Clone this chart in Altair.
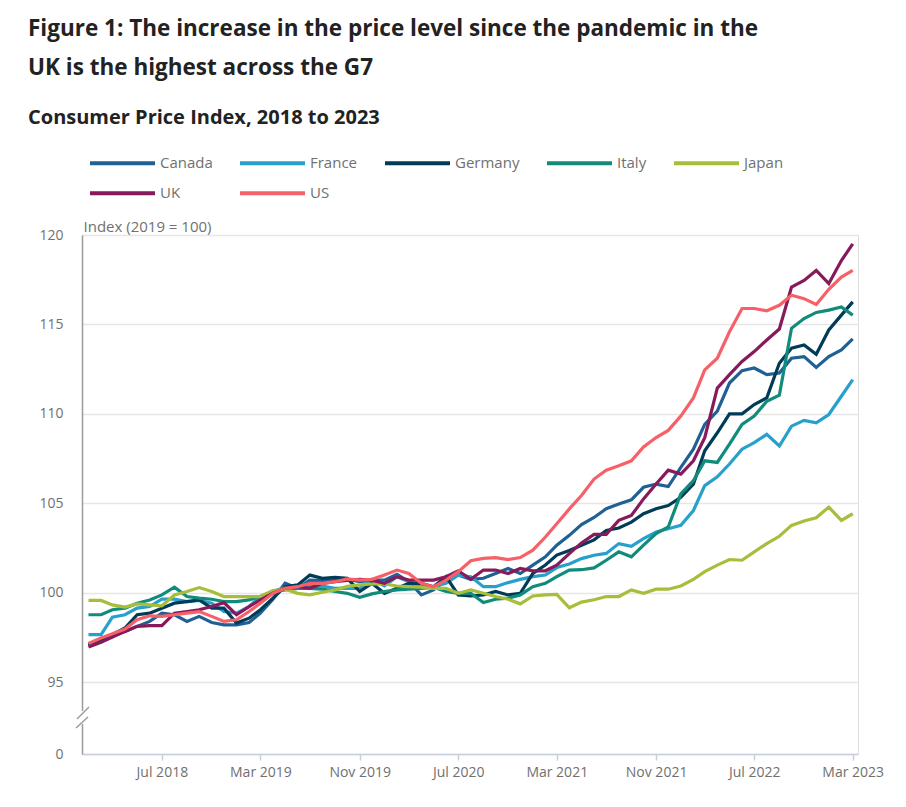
import altair as alt
import pandas as pd

months = pd.date_range("2018-01-01", "2023-03-01", freq="MS").strftime("%Y-%m-%d").tolist()

countries = ["Canada", "France", "Germany", "Italy", "Japan", "UK", "US"]
colors = ["#206095", "#27a0cc", "#003c57", "#118c7b", "#a8bd3a", "#871a5b", "#f66068"]

canada = [97.09, 97.33, 97.56, 97.83, 98.11, 98.39, 98.85, 98.76, 98.39, 98.67, 98.33, 98.20, 98.20, 98.33, 98.85, 99.63, 100.52, 100.24, 100.70, 100.67, 100.70,
          100.75, 100.61, 100.70, 100.70, 101.02, 100.61, 99.87, 100.15, 100.70, 100.98, 100.74, 100.80, 101.07, 101.35, 101.07, 101.54, 102.00,
          102.65, 103.20, 103.80, 104.20,
          104.69, 104.96, 105.19, 105.89, 106.07, 105.93, 107.00, 108.02, 109.41, 110.15, 111.72, 112.41, 112.56, 112.19, 112.28, 113.11, 113.20, 112.59, 113.20, 113.57, 114.19]
france = [97.65, 97.65, 98.63, 98.76, 99.13, 99.22, 99.63, 99.63, 99.50, 99.56, 99.41, 98.94, 98.85, 99.22, 99.78, 100.06, 100.30, 100.33, 100.33, 100.37, 100.24,
          100.25, 100.24, 100.74, 100.37, 100.89, 100.61, 100.33, 100.33, 100.52, 100.98, 100.89, 100.33, 100.33, 100.56, 100.74, 100.89, 100.98,
          101.40, 101.60, 101.90, 102.09,
          102.19, 102.74, 102.59, 103.02, 103.39, 103.57, 103.76, 104.59, 105.98, 106.48, 107.19, 108.02, 108.39, 108.85, 108.20, 109.31, 109.63, 109.50, 109.96, 110.98, 111.91]
germany = [97.04, 97.37, 97.65, 98.02, 98.76, 98.85, 99.13, 99.41, 99.50, 99.59, 99.13, 99.13, 98.30, 98.57, 99.04, 99.69, 100.33, 100.43, 100.98, 100.80, 100.85,
           100.80, 100.06, 100.52, 99.96, 100.24, 100.52, 100.52, 100.33, 100.89, 99.87, 99.81, 99.87, 100.06, 99.87, 99.96, 101.07, 101.54,
           102.10, 102.35, 102.65, 102.95,
           103.48, 103.61, 103.94, 104.41, 104.69, 104.87, 105.33, 106.07, 107.93, 108.94, 110.00, 110.00, 110.52, 110.89, 112.83, 113.67, 113.85, 113.33, 114.69, 115.52, 116.26]
italy = [98.76, 98.76, 99.04, 99.13, 99.41, 99.59, 99.87, 100.30, 99.78, 99.69, 99.63, 99.50, 99.50, 99.59, 99.78, 100.06, 100.15, 100.24, 100.24, 100.19, 100.06,
         99.96, 99.74, 99.93, 100.06, 100.15, 100.19, 100.24, 100.30, 100.06, 99.96, 99.96, 99.44, 99.63, 99.69, 99.87, 100.33, 100.52,
         100.89, 101.26, 101.28, 101.38,
         101.81, 102.28, 102.00, 102.65, 103.30, 103.67, 105.52, 106.26, 107.37, 107.28, 108.30, 109.41, 109.87, 110.70, 111.04, 114.78, 115.33, 115.67, 115.80, 115.98, 115.52]
japan = [99.56, 99.56, 99.31, 99.19, 99.37, 99.31, 99.26, 99.87, 100.06, 100.28, 100.06, 99.78, 99.78, 99.78, 99.78, 100.11, 100.19, 99.96, 99.87, 100.02, 100.15,
         100.35, 100.43, 100.48, 100.48, 100.37, 100.33, 100.30, 100.24, 100.24, 99.96, 100.15, 99.96, 99.78, 99.63, 99.37, 99.81, 99.87,
         99.90, 99.15, 99.47, 99.60,
         99.78, 99.78, 100.15, 99.96, 100.19, 100.19, 100.37, 100.74, 101.17, 101.54, 101.85, 101.81, 102.28, 102.74, 103.15, 103.76, 104.00, 104.19, 104.78, 104.04, 104.41]
uk = [96.96, 97.22, 97.52, 97.83, 98.11, 98.15, 98.15, 98.85, 98.94, 99.04, 99.22, 99.44, 98.76, 99.22, 99.59, 99.96, 100.24, 100.33, 100.24, 100.52, 100.61,
      100.68, 100.74, 100.70, 100.52, 100.89, 100.70, 100.70, 100.70, 100.89, 101.22, 100.74, 101.26, 101.26, 101.07, 101.35, 101.22, 101.22,
      101.54, 102.18, 102.78, 103.26,
      103.26, 104.04, 104.31, 105.24, 106.07, 106.85, 106.63, 107.37, 108.67, 111.44, 112.19, 112.93, 113.48, 114.13, 114.74, 117.09, 117.46, 118.02, 117.28, 118.57, 119.50]
us = [97.15, 97.46, 97.70, 97.96, 98.48, 98.70, 98.67, 98.76, 98.85, 98.94, 98.67, 98.39, 98.48, 98.94, 99.41, 99.96, 100.24, 100.33, 100.52, 100.52, 100.61,
      100.77, 100.70, 100.74, 100.98, 101.26, 101.07, 100.52, 100.33, 100.70, 101.17, 101.78, 101.91, 101.96, 101.85, 101.96, 102.37, 103.11,
      103.85, 104.68, 105.43, 106.35,
      106.85, 107.09, 107.37, 108.15, 108.67, 109.07, 109.87, 110.89, 112.46, 113.11, 114.59, 115.89, 115.89, 115.76, 116.07, 116.63, 116.44, 116.11, 116.96, 117.65, 118.02]

series = [canada, france, germany, italy, japan, uk, us]

y_ticks = [0, 95, 100, 105, 110, 115, 120]
x_tick_dates = [(2018, 7), (2019, 3), (2019, 11), (2020, 7), (2021, 3), (2021, 11), (2022, 7), (2023, 3)]

rows = []
for c, vals in zip(countries, series):
    for d, v in zip(months, vals):
        rows.append({"date": d, "country": c, "value": v})
df = pd.DataFrame(rows)

W, H = 776, 519
Y95 = H - 72

FONT = "Open Sans"
GREY = "#707070"

x_enc = alt.X(
    "date:T",
    scale=alt.Scale(type="utc",
                    domain=[alt.DateTime(year=2017, month=12, date=16, utc=True),
                            alt.DateTime(year=2023, month=3, date=14, utc=True)]),
    axis=alt.Axis(
        values=[alt.DateTime(year=y, month=m, date=1, utc=True) for y, m in x_tick_dates],
        labelExpr="utcFormat(datum.value, '%b %Y')", title=None, grid=False,
        labelFont=FONT, labelFontSize=14, labelColor=GREY, labelPadding=5,
        tickColor="#c9cde0", tickSize=6, tickWidth=1.5,
        domainColor="#c9cde0", domainWidth=1.5,
    ),
)

y_enc = alt.Y(
    "value:Q",
    scale=alt.Scale(domain=[0, 95, 120], range=[H, Y95, 0], nice=False, zero=False),
    axis=alt.Axis(
        values=y_ticks, title="Index (2019 = 100)", titleAngle=0, titleAlign="left",
        titleBaseline="alphabetic", titleX=1, titleY=-4, titleFont=FONT, titleFontSize=15,
        titleFontWeight="normal", titleColor=GREY,
        labelFont=FONT, labelFontSize=14, labelColor=GREY, labelPadding=19,
        ticks=False, tickSize=0, domainColor="#9b9b9b", domainWidth=1.5,
        gridColor="#e6e6e6", gridWidth=1.5,
    ),
)

lines = alt.Chart(df).mark_line(strokeWidth=3.2).encode(
    x=x_enc,
    y=y_enc,
    color=alt.Color(
        "country:N",
        scale=alt.Scale(domain=countries, range=colors),
        legend=alt.Legend(
            orient="none", legendX=6, legendY=-80.7, direction="horizontal", columns=5,
            gridAlign="none", title=None, symbolType="stroke", symbolSize=4225,
            symbolStrokeWidth=4, clipHeight=18, labelFont=FONT, labelFontSize=15,
            labelColor=GREY, columnPadding=25, rowPadding=12, labelOffset=3,
            labelLimit=0, padding=0,
        ),
    ),
)

one = pd.DataFrame({"k": [0]})
gap = alt.Chart(one).mark_rect(color="white").encode(
    x=alt.value(-2), x2=alt.value(2), y=alt.value(476), y2=alt.value(489)
)
brk1 = alt.Chart(one).mark_rule(color="#9b9b9b", strokeWidth=1.5).encode(
    x=alt.value(-5), y=alt.value(484), x2=alt.value(7), y2=alt.value(472)
)
brk2 = alt.Chart(one).mark_rule(color="#9b9b9b", strokeWidth=1.5).encode(
    x=alt.value(-6), y=alt.value(493), x2=alt.value(6), y2=alt.value(482)
)

chart = alt.layer(lines, gap, brk1, brk2).properties(
    width=W, height=H,
    autosize=alt.AutoSizeParams(type="none"),
    padding={"left": 74, "top": 227, "right": 40, "bottom": 45},
    title=alt.TitleParams(
        text=["Figure 1: The increase in the price level since the pandemic in the",
              "UK is the highest across the G7"],
        subtitle="Consumer Price Index, 2018 to 2023",
        anchor="start", frame="group", dx=-54, offset=26,
        font=FONT, fontSize=22.5, fontWeight="bold", color="#222222", lineHeight=39,
        subtitleFont=FONT, subtitleFontSize=20, subtitleFontWeight="bold",
        subtitleColor="#222222", subtitlePadding=29,
    ),
).configure_view(stroke=None).configure(background="white")

chart.save("out.html", embed_options={"renderer": "svg", "actions": False})
